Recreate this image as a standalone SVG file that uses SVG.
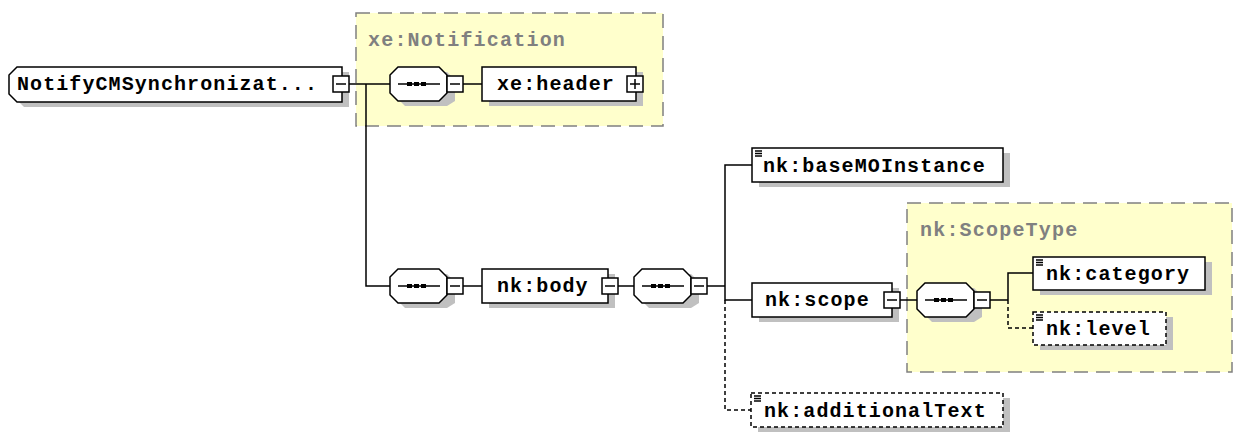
<svg xmlns="http://www.w3.org/2000/svg" xmlns:xlink="http://www.w3.org/1999/xlink" width="1245" height="433" viewBox="0 0 1245 433">
<style>
.bg{fill:#ffffff}
.grp{fill:#ffffcc;stroke:#808080;stroke-width:1.5;stroke-dasharray:14 8}
.glbl{font-family:"Liberation Mono","DejaVu Sans Mono",monospace;font-weight:bold;font-size:20px;fill:#808080;letter-spacing:1.2px}
.lbl{font-family:"Liberation Mono","DejaVu Sans Mono",monospace;font-weight:bold;font-size:20px;fill:#000000;letter-spacing:1.1px}
.shadow{fill:#c0c0c0;stroke:none}
.box{fill:#ffffff;stroke:#000000;stroke-width:1.5}
.obox{fill:#ffffff;stroke:#000000;stroke-width:1.5;stroke-dasharray:4 3}
.ln{fill:none;stroke:#000000;stroke-width:1.5}
.dln{fill:none;stroke:#000000;stroke-width:1.5;stroke-dasharray:4 3}
.dot{fill:#000000}
</style>
<defs>
<g id="seqShape">
<path class="shadow" d="M15,5 H57 L65,13 V34 L57,39 H15 L7,31 V13 Z"/>
<path class="box" d="M8,0 H49 L57,8 V26 L49,34 H8 L0,26 V8 Z"/>
<line class="ln" x1="8" y1="17" x2="50" y2="17"/>
<rect class="dot" x="17" y="15" width="5" height="4"/>
<rect class="dot" x="24" y="15" width="5" height="4"/>
<rect class="dot" x="31" y="15" width="5" height="4"/>
<rect class="box" x="57" y="9" width="16" height="16"/>
<line class="ln" x1="60" y1="17" x2="70" y2="17"/>
</g>
<g id="minus">
<rect class="box" x="0" y="0" width="16" height="16"/>
<line class="ln" x1="3" y1="8" x2="13" y2="8"/>
</g>
<g id="elIcon">
<line class="ln" x1="3" y1="3" x2="10" y2="3" stroke-width="1.2"/>
<line class="ln" x1="3" y1="5.5" x2="10" y2="5.5" stroke-width="1.2"/>
<line class="ln" x1="3" y1="8" x2="10" y2="8" stroke-width="1.2"/>
</g>
</defs>
<rect class="bg" x="0" y="0" width="1245" height="433"/>

<g id="xe-Notification">
<rect class="grp" x="356" y="13" width="307" height="113"/>
<text class="glbl" x="368" y="46">xe:Notification</text>
</g>
<g id="nk-ScopeType">
<rect class="grp" x="907" y="203" width="325" height="169"/>
<text class="glbl" x="920" y="236">nk:ScopeType</text>
</g>

<g id="connectors">
<line class="ln" x1="349" y1="84" x2="390" y2="84"/>
<polyline class="ln" points="366,84 366,286 390,286"/>
<line class="ln" x1="463" y1="84" x2="482" y2="84"/>
<line class="ln" x1="463" y1="286" x2="482" y2="286"/>
<line class="ln" x1="618" y1="286" x2="634" y2="286"/>
<line class="ln" x1="707" y1="286" x2="725" y2="286"/>
<polyline class="ln" points="752,165 725,165 725,300 752,300"/>
<polyline class="dln" points="725,300 725,410 751,410"/>
<line class="ln" x1="900" y1="300" x2="917" y2="300"/>
<line class="ln" x1="990" y1="300" x2="1008" y2="300"/>
<polyline class="ln" points="1033,273 1008,273 1008,300"/>
<polyline class="dln" points="1008,300 1008,328 1033,328"/>
</g>

<g id="NotifyCMSynchronization">
<path class="shadow" d="M24,72 H349 V107 H24 L16,99 V80 Z"/>
<path class="box" d="M17,67 H342 V102 H17 L9,94 V75 Z"/>
<text class="lbl" x="17" y="90" textLength="301" lengthAdjust="spacing">NotifyCMSynchronizat...</text>
<use xlink:href="#minus" href="#minus" x="333" y="76"/>
</g>

<g id="seq1" transform="translate(390,67)">
<use xlink:href="#seqShape" href="#seqShape"/>
</g>

<g id="xe-header">
<rect class="shadow" x="489" y="72" width="154" height="34"/>
<rect class="box" x="482" y="67" width="154" height="34"/>
<text class="lbl" x="497" y="90">xe:header</text>
<rect class="box" x="627" y="76" width="16" height="16"/>
<line class="ln" x1="630" y1="84" x2="640" y2="84"/>
<line class="ln" x1="635" y1="79" x2="635" y2="89"/>
</g>

<g id="seq2" transform="translate(390,269)">
<use xlink:href="#seqShape" href="#seqShape"/>
</g>

<g id="nk-body">
<rect class="shadow" x="489" y="274" width="126" height="34"/>
<rect class="box" x="482" y="269" width="126" height="34"/>
<text class="lbl" x="497" y="292">nk:body</text>
<use xlink:href="#minus" href="#minus" x="602" y="278"/>
</g>

<g id="seq3" transform="translate(634,269)">
<use xlink:href="#seqShape" href="#seqShape"/>
</g>

<g id="nk-baseMOInstance">
<rect class="shadow" x="759" y="153" width="251" height="34"/>
<rect class="box" x="752" y="148" width="251" height="34"/>
<use xlink:href="#elIcon" href="#elIcon" x="752" y="148"/>
<text class="lbl" x="763" y="172">nk:baseMOInstance</text>
</g>

<g id="nk-scope">
<rect class="shadow" x="759" y="288" width="140" height="34"/>
<rect class="box" x="752" y="283" width="140" height="34"/>
<text class="lbl" x="765" y="306">nk:scope</text>
<use xlink:href="#minus" href="#minus" x="884" y="292"/>
</g>

<g id="seq4" transform="translate(917,283)">
<use xlink:href="#seqShape" href="#seqShape"/>
</g>

<g id="nk-category">
<rect class="shadow" x="1040" y="262" width="172" height="33"/>
<rect class="box" x="1033" y="257" width="172" height="33"/>
<use xlink:href="#elIcon" href="#elIcon" x="1033" y="257"/>
<text class="lbl" x="1046" y="280">nk:category</text>
</g>

<g id="nk-level">
<rect class="shadow" x="1040" y="317" width="133" height="33"/>
<rect class="obox" x="1033" y="312" width="133" height="33"/>
<use xlink:href="#elIcon" href="#elIcon" x="1033" y="312"/>
<text class="lbl" x="1046" y="335">nk:level</text>
</g>

<g id="nk-additionalText">
<rect class="shadow" x="758" y="398" width="252" height="34"/>
<rect class="obox" x="751" y="393" width="252" height="34"/>
<use xlink:href="#elIcon" href="#elIcon" x="751" y="393"/>
<text class="lbl" x="764" y="417">nk:additionalText</text>
</g>
</svg>
